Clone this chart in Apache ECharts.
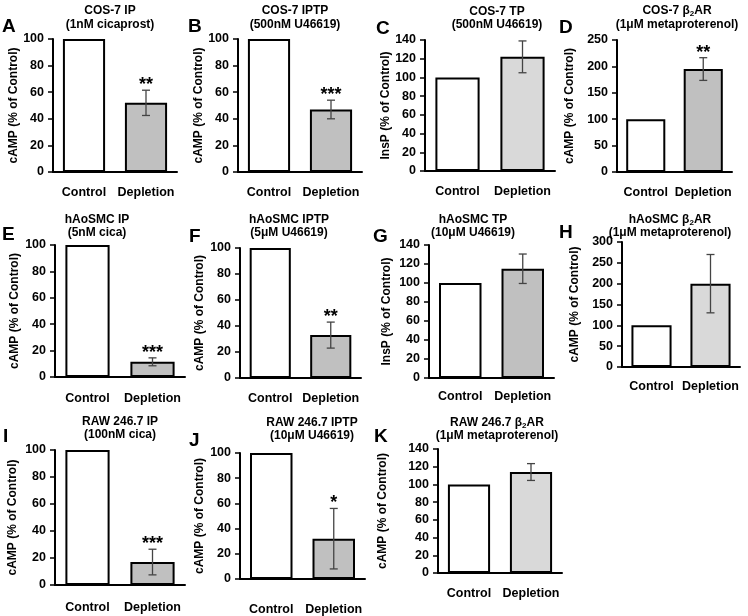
<!DOCTYPE html>
<html><head><meta charset="utf-8">
<script src="https://cdn.jsdelivr.net/npm/echarts@6/dist/echarts.min.js"></script>
<style>html,body{margin:0;padding:0;background:#fff}#c{width:748px;height:616px}</style>
</head><body><div id="c"></div>
<script>
// ---- data ----
const categories = ['Control', 'Depletion'];
const panelLetters = ['A','B','C','D','E','F','G','H','I','J','K'];
const titleLine1 = ['COS-7 IP','COS-7 IPTP','COS-7 TP','COS-7 β₂AR','hAoSMC IP','hAoSMC IPTP','hAoSMC TP','hAoSMC β₂AR','RAW 246.7 IP','RAW 246.7 IPTP','RAW 246.7 β₂AR'];
const titleLine2 = ['(1nM cicaprost)','(500nM U46619)','(500nM U46619)','(1μM metaproterenol)','(5nM cica)','(5μM U46619)','(10μM U46619)','(1μM metaproterenol)','(100nM cica)','(10μM U46619)','(1μM metaproterenol)'];
const yAxisNames = ['cAMP (% of Control)','cAMP (% of Control)','InsP (% of Control)','cAMP (% of Control)','cAMP (% of Control)','cAMP (% of Control)','InsP (% of Control)','cAMP (% of Control)','cAMP (% of Control)','cAMP (% of Control)','cAMP (% of Control)'];
const yMax = [100,100,140,250,100,100,140,300,100,100,140];
const yInterval = [20,20,20,50,20,20,20,50,20,20,20];
const controlValues = [100,100,100,100,100,100,100,100,100,100,100];
const depletionValues = [52,47,122,195,11.5,33,115,200,17,32,114];
const depletionErrors = [9.5,7,17,21.5,3,10,15.5,70,9.5,24,9.5];
const significance = ['**','***','','**','***','**','','','***','*',''];

// ---- layout / style (not data) ----
const layout = [
  {l:53, t:39, w:124,h:133,gap:32,lab:14,lx:2,  ly:27, tx:110,ty1:11, ty2:25, shade:'#c0c0c0'},
  {l:238,t:39, w:124,h:133,gap:32,lab:14,lx:188,ly:27, tx:295,ty1:11, ty2:25, shade:'#c0c0c0'},
  {l:425,t:40, w:130,h:131,gap:32,lab:14,lx:376,ly:29, tx:497,ty1:12, ty2:25, shade:'#d9d9d9'},
  {l:617,t:40, w:115,h:132,gap:41,lab:14,lx:559,ly:28, tx:677,ty1:11, ty2:25, shade:'#c0c0c0'},
  {l:55, t:245,w:130,h:132,gap:34,lab:15,lx:2,  ly:235,tx:97, ty1:220,ty2:233,shade:'#c0c0c0'},
  {l:240,t:248,w:121,h:130,gap:34,lab:14,lx:189,ly:237,tx:289,ty1:220,ty2:233,shade:'#c0c0c0'},
  {l:429,t:245,w:125,h:133,gap:36,lab:12,lx:373,ly:237,tx:473,ty1:220,ty2:233,shade:'#c0c0c0'},
  {l:622,t:242,w:118,h:125,gap:41,lab:13,lx:559,ly:233,tx:670,ty1:220,ty2:233,shade:'#d9d9d9'},
  {l:55, t:450,w:130,h:135,gap:36,lab:16,lx:3,  ly:437,tx:120,ty1:422,ty2:435,shade:'#c0c0c0'},
  {l:240,t:453,w:125,h:130,gap:34,lab:24,lx:189,ly:441,tx:312,ty1:423,ty2:436,shade:'#c0c0c0'},
  {l:438,t:449,w:124,h:124,gap:49,lab:14,lx:374,ly:437,tx:497,ty1:423,ty2:436,shade:'#d9d9d9'}
];
const FONT = '"Liberation Sans", Arial, sans-serif';

const grid = [], xAxis = [], yAxis = [], series = [], graphic = [];
function richTitle(s) {
  if (s.indexOf('₂') < 0) return {text: s, rich: null};
  const parts = s.split('₂');
  return {text: '{b|' + parts[0] + '}{s|2}{b|' + parts[1] + '}', rich: {
    b: {fontFamily: FONT, fontWeight: 'bold', fontSize: 12, fill: '#000'},
    s: {fontFamily: FONT, fontWeight: 'bold', fontSize: 8, fill: '#000', padding: [5,0,0,0]}
  }};
}
layout.forEach((L, i) => {
  grid.push({left: L.l, top: L.t, width: L.w, height: L.h});
  xAxis.push({type: 'category', gridIndex: i, data: categories,
    axisLine: {lineStyle: {color: '#000', width: 2}}, axisTick: {show: false},
    axisLabel: {color: '#000', fontFamily: FONT, fontWeight: 'bold', fontSize: 12.5, margin: L.lab, interval: 0}});
  yAxis.push({type: 'value', gridIndex: i, min: 0, max: yMax[i], interval: yInterval[i],
    name: yAxisNames[i], nameLocation: 'middle', nameGap: L.gap,
    nameTextStyle: {color: '#000', fontFamily: FONT, fontWeight: 'bold', fontSize: 12},
    axisLine: {show: true, lineStyle: {color: '#000', width: 2}},
    axisTick: {show: true, length: 5, lineStyle: {color: '#000', width: 1.5}},
    splitLine: {show: false},
    axisLabel: {color: '#000', fontFamily: FONT, fontWeight: 'bold', fontSize: 12.5, margin: 9}});
  series.push({type: 'bar', xAxisIndex: i, yAxisIndex: i, barWidth: '68%',
    data: [
      {value: controlValues[i], itemStyle: {color: '#fff'}},
      {value: depletionValues[i], itemStyle: {color: L.shade}}
    ],
    itemStyle: {borderColor: '#000', borderWidth: 2}, silent: true, animation: false});
  const star = significance[i];
  series.push({type: 'custom', xAxisIndex: i, yAxisIndex: i, z: 5, animation: false, silent: true,
    data: [[1, depletionValues[i], depletionErrors[i]]],
    renderItem: function (params, api) {
      const x = api.value(0), v = api.value(1), e = api.value(2);
      const top = api.coord([x, v + e]), bot = api.coord([x, v - e]);
      const c = 4, st = {stroke: '#444', lineWidth: 1.3};
      const ch = [
        {type: 'line', shape: {x1: top[0], y1: top[1], x2: bot[0], y2: bot[1]}, style: st},
        {type: 'line', shape: {x1: top[0]-c, y1: top[1], x2: top[0]+c, y2: top[1]}, style: st},
        {type: 'line', shape: {x1: bot[0]-c, y1: bot[1], x2: bot[0]+c, y2: bot[1]}, style: st}
      ];
      if (star) ch.push({type: 'text', x: top[0], y: top[1] - 5,
        style: {text: star, align: 'center', verticalAlign: 'middle', fill: '#000',
          font: 'bold 18px ' + FONT}});
      return {type: 'group', children: ch};
    }});
  graphic.push({type: 'text', x: L.lx, y: L.ly, style: {text: panelLetters[i],
    align: 'left', verticalAlign: 'middle', fill: '#000', font: 'bold 19px ' + FONT}});
  const t1 = richTitle(titleLine1[i]);
  const s1 = {text: t1.text, align: 'center', verticalAlign: 'middle', fill: '#000', font: 'bold 12px ' + FONT};
  if (t1.rich) s1.rich = t1.rich;
  graphic.push({type: 'text', x: L.tx, y: L.ty1, style: s1});
  graphic.push({type: 'text', x: L.tx, y: L.ty2, style: {text: titleLine2[i], align: 'center',
    verticalAlign: 'middle', fill: '#000', font: 'bold 12px ' + FONT}});
});

const chart = echarts.init(document.getElementById('c'), null, {renderer: 'canvas'});
chart.setOption({backgroundColor: '#fff', animation: false, grid, xAxis, yAxis, series, graphic});
</script></body></html>
